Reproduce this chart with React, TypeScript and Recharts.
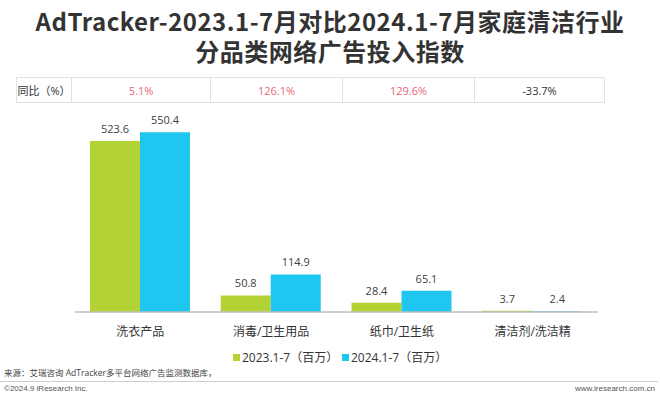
import React from "react";
import { BarChart, Bar, XAxis, YAxis, LabelList } from "recharts";

const categories = ["洗衣产品", "消毒/卫生用品", "纸巾/卫生纸", "清洁剂/洗洁精"];
const values2023 = [523.6, 50.8, 28.4, 3.7];
const values2024 = [550.4, 114.9, 65.1, 2.4];
const yoyValues = [5.1, 126.1, 129.6, -33.7];
const seriesNames = ["2023.1-7（百万）", "2024.1-7（百万）"];
const colors = ["#b2d235", "#1fc7f0"];

const data = categories.map((name, i) => ({
  name,
  y2023: values2023[i],
  y2024: values2024[i],
}));

const FONT = "'Open Sans', 'Noto Sans CJK SC', 'Noto Sans', sans-serif";
const colEdges = [16, 71, 210, 342, 474, 605];

export default function App() {
  return (
    <div
      style={{
        position: "absolute",
        left: 0,
        top: 0,
        width: 660,
        height: 398,
        background: "#fff",
        fontFamily: FONT,
        overflow: "hidden",
      }}
    >
      <div style={{ position: "absolute", left: 0, top: 0 }}>
        <BarChart
          width={660}
          height={398}
          data={data}
          margin={{ top: 116, right: 62, bottom: 56, left: 75 }}
          barGap={0}
          barSize={50}
        >
          <YAxis hide domain={[0, 600]} />
          <XAxis
            dataKey="name"
            height={30}
            interval={0}
            tickLine={false}
            tickMargin={9}
            axisLine={{ stroke: "#bfbfbf", strokeWidth: 1.5 }}
            tick={{ fontSize: 12, fill: "#333", fontFamily: FONT }}
          />
          <Bar dataKey="y2023" fill={colors[0]} isAnimationActive={false}>
            <LabelList
              dataKey="y2023"
              position="top"
              offset={8}
              formatter={(v: any) => Number(v).toFixed(1)}
              style={{ fontSize: 11, fill: "#404040", fontFamily: FONT }}
            />
          </Bar>
          <Bar dataKey="y2024" fill={colors[1]} isAnimationActive={false}>
            <LabelList
              dataKey="y2024"
              position="top"
              offset={8}
              formatter={(v: any) => Number(v).toFixed(1)}
              style={{ fontSize: 11, fill: "#404040", fontFamily: FONT }}
            />
          </Bar>
        </BarChart>
      </div>

      {/* Title */}
      <div
        style={{
          position: "absolute",
          left: 0,
          top: 6,
          width: 660,
          textAlign: "center",
          fontFamily: "'Noto Sans CJK SC', sans-serif",
          fontWeight: 700,
          fontSize: 24,
          lineHeight: "30px",
          letterSpacing: 0.5,
          color: "#333",
        }}
      >
        <div style={{ height: 30 }}>AdTracker-2023.1-7月对比2024.1-7月家庭清洁行业</div>
        <div style={{ height: 30 }}>分品类网络广告投入指数</div>
      </div>

      {/* YoY table */}
      {["同比（%）", ...yoyValues.map((v) => `${v.toFixed(1)}%`)].map((txt, i) => (
        <div
          key={i}
          style={{
            position: "absolute",
            left: colEdges[i],
            top: 77,
            width: colEdges[i + 1] - colEdges[i],
            height: 26,
            boxSizing: "border-box",
            borderTop: "1px solid #e2e2e2",
            borderBottom: "1px solid #e2e2e2",
            borderLeft: "1px solid #e2e2e2",
            borderRight: i === 4 ? "1px solid #e2e2e2" : "none",
            display: "flex",
            alignItems: "center",
            justifyContent: "center",
            fontSize: 11,
            color: i === 0 ? "#333" : yoyValues[i - 1] >= 0 ? "#e8677a" : "#333",
          }}
        >
          {txt}
        </div>
      ))}

      {/* Legend */}
      {seriesNames.map((n, i) => (
        <div
          key={n}
          style={{
            position: "absolute",
            left: i === 0 ? 233 : 342,
            top: 349,
            height: 16,
            display: "flex",
            alignItems: "center",
            fontSize: 12,
            color: "#333",
            whiteSpace: "nowrap",
          }}
        >
          <span
            style={{
              display: "inline-block",
              width: 7,
              height: 7,
              background: colors[i],
              marginRight: 2,
            }}
          />
          {n}
        </div>
      ))}

      {/* Footer */}
      <div
        style={{
          position: "absolute",
          left: 4,
          top: 366,
          fontSize: 8.5,
          color: "#444",
          whiteSpace: "nowrap",
        }}
      >
        来源：艾瑞咨询 AdTracker多平台网络广告监测数据库，
      </div>
      <div
        style={{
          position: "absolute",
          left: 0,
          top: 381,
          width: 658,
          height: 1,
          background: "#cfcfcf",
        }}
      />
      <div
        style={{
          position: "absolute",
          left: 4,
          top: 384,
          fontSize: 8,
          color: "#555",
          fontFamily: "'Liberation Sans', Arial, sans-serif",
          whiteSpace: "nowrap",
        }}
      >
        ©2024.9 iResearch Inc.
      </div>
      <div
        style={{
          position: "absolute",
          right: 5,
          top: 384,
          fontSize: 8,
          color: "#555",
          fontFamily: "'Liberation Sans', Arial, sans-serif",
          whiteSpace: "nowrap",
        }}
      >
        www.iresearch.com.cn
      </div>
    </div>
  );
}
